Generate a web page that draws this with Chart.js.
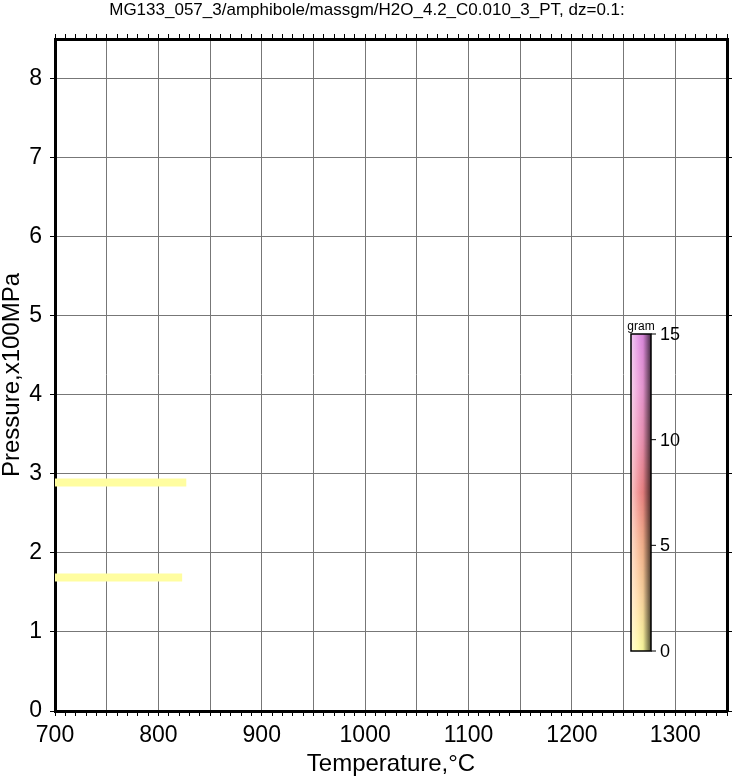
<!DOCTYPE html>
<html>
<head>
<meta charset="utf-8">
<script src="https://cdn.jsdelivr.net/npm/chart.js@4.4.0/dist/chart.umd.min.js"></script>
<style>
  html, body { margin: 0; padding: 0; background: #fff; }
</style>
</head>
<body>
<canvas id="chart" width="734" height="776"></canvas>
<script>
const titleText = 'MG133_057_3/amphibole/massgm/H2O_4.2_C0.010_3_PT, dz=0.1:';

// yellow strips: pressure level (x100MPa), temperature span (°C), mass (gram)
const stripPressure = [2.89, 1.69];
const stripTStart = [700, 700];
const stripTEnd = [827, 823];
const stripMass = [0.1, 0.1];

// axis ticks
const xTickLabels = [700, 800, 900, 1000, 1100, 1200, 1300];
const yTickLabels = [0, 1, 2, 3, 4, 5, 6, 7, 8];
const colorbarTicks = [0, 5, 10, 15];

// colour scale (gram -> colour)
const cmapValues = [0, 2.5, 5, 7.5, 10, 12.5, 15];
const cmapColors = ['#ffffa0', '#ffd8a0', '#f8b48e', '#ee8484', '#ee92b4', '#ec9ad6', '#e08ae2'];

const FONT = "'Liberation Sans', Arial, sans-serif";
const gridColor = '#777777';

function hexToRgb(h) {
  return [1, 3, 5].map(i => parseInt(h.substr(i, 2), 16));
}

function colorAt(v) {
  let i = 0;
  while (i < cmapValues.length - 2 && v > cmapValues[i + 1]) i++;
  const t = Math.max(0, Math.min(1, (v - cmapValues[i]) / (cmapValues[i + 1] - cmapValues[i])));
  const a = hexToRgb(cmapColors[i]);
  const b = hexToRgb(cmapColors[i + 1]);
  return a.map((c, k) => Math.round(c + (b[k] - c) * t));
}

function mix(rgb, target, t) {
  const c = rgb.map((v, k) => Math.round(v + (target[k] - v) * t));
  return `rgb(${c[0]},${c[1]},${c[2]})`;
}

// tick marks every 10 °C along the top and bottom edges
function tempTicks() {
  const out = [];
  for (let v = 700; v <= 1350; v += 10) out.push({ value: v });
  return out;
}

const datasets = stripPressure.map((p, i) => ({
  data: [{ x: stripTStart[i], y: p }, { x: stripTEnd[i], y: p }],
  showLine: true,
  borderColor: mix(colorAt(stripMass[i]), [255, 255, 255], 0),
  borderWidth: 8,
  borderCapStyle: 'butt',
  pointRadius: 0
}));

// shaded colour bar at the right of the plot
const colorbarPlugin = {
  id: 'colorbar',
  afterDraw(chart) {
    const ctx = chart.ctx;
    const x0 = 631, x1 = 651, yTop = 334, yBot = 651;
    const vmax = colorbarTicks[colorbarTicks.length - 1];
    ctx.save();
    for (let y = yTop; y < yBot; y++) {
      const v = vmax * (yBot - y - 0.5) / (yBot - yTop);
      const base = colorAt(v);
      const g = ctx.createLinearGradient(x0, 0, x1, 0);
      g.addColorStop(0, mix(base, [255, 255, 255], 0.55));
      g.addColorStop(0.35, mix(base, [255, 255, 255], 0.15));
      g.addColorStop(0.6, mix(base, [0, 0, 0], 0.05));
      g.addColorStop(1, mix(base, [0, 0, 0], 0.7));
      ctx.fillStyle = g;
      ctx.fillRect(x0, y, x1 - x0, 1);
    }
    ctx.strokeStyle = '#000';
    ctx.lineWidth = 1.5;
    ctx.strokeRect(x0, yTop, x1 - x0, yBot - yTop);

    ctx.fillStyle = '#000';
    ctx.font = `18px ${FONT}`;
    ctx.textAlign = 'left';
    ctx.textBaseline = 'middle';
    ctx.lineWidth = 1;
    colorbarTicks.forEach(t => {
      const y = yBot - (yBot - yTop) * t / vmax;
      ctx.beginPath();
      ctx.moveTo(x1, y);
      ctx.lineTo(x1 + 5, y);
      ctx.stroke();
      ctx.fillText(String(t), x1 + 9, y + 1);
    });
    ctx.font = `12px ${FONT}`;
    ctx.textAlign = 'center';
    ctx.textBaseline = 'bottom';
    ctx.fillText('gram', (x0 + x1) / 2, yTop - 1);
    ctx.restore();
  }
};

const tickFont = { family: FONT, size: 23 };

new Chart(document.getElementById('chart'), {
  type: 'scatter',
  data: { datasets },
  options: {
    responsive: false,
    animation: false,
    devicePixelRatio: 1,
    layout: { padding: 0 },
    plugins: {
      legend: { display: false },
      tooltip: { enabled: false },
      title: {
        display: true,
        text: titleText,
        color: '#000',
        font: { family: FONT, size: 17, weight: 'normal', lineHeight: 1.2 },
        padding: { top: 0, bottom: 0 }
      }
    },
    scales: {
      x: {
        type: 'linear',
        position: 'bottom',
        min: 700,
        max: 1350,
        z: 1,
        afterBuildTicks: s => { s.ticks = tempTicks(); },
        afterFit: s => { s.height = 65; },
        grid: {
          color: c => (c.tick && c.tick.value % 50 === 0) ? gridColor : 'rgba(0,0,0,0)',
          tickColor: '#000',
          tickLength: 5,
          lineWidth: 1
        },
        border: { color: '#000', width: 3 },
        ticks: {
          autoSkip: false,
          maxRotation: 0,
          padding: 6,
          color: '#000',
          font: tickFont,
          callback: v => xTickLabels.includes(v) ? String(v) : ''
        },
        title: {
          display: true,
          text: 'Temperature,°C',
          color: '#000',
          font: { family: FONT, size: 24, lineHeight: 1 },
          padding: { top: 0, bottom: 0 }
        }
      },
      x2: {
        type: 'linear',
        position: 'top',
        min: 700,
        max: 1350,
        z: 1,
        afterBuildTicks: s => { s.ticks = tempTicks(); },
        afterFit: s => { s.height = 18.6; },
        grid: { drawOnChartArea: false, tickColor: '#000', tickLength: 5 },
        border: { color: '#000', width: 3 },
        ticks: { display: false }
      },
      y: {
        type: 'linear',
        position: 'left',
        min: 0,
        max: 8.5,
        z: 1,
        afterBuildTicks: s => { s.ticks = yTickLabels.map(v => ({ value: v })); },
        afterFit: s => { s.width = 55; },
        grid: { color: gridColor, tickColor: '#000', tickLength: 5, lineWidth: 1 },
        border: { color: '#000', width: 3 },
        ticks: { padding: 8, color: '#000', font: tickFont },
        title: {
          display: true,
          text: 'Pressure,x100MPa',
          color: '#000',
          font: { family: FONT, size: 24, lineHeight: 1 },
          padding: { top: 0, bottom: 0 }
        }
      },
      y2: {
        type: 'linear',
        position: 'right',
        min: 0,
        max: 8.5,
        z: 1,
        afterBuildTicks: s => { s.ticks = yTickLabels.map(v => ({ value: v })); },
        afterFit: s => { s.width = 7; },
        grid: { drawOnChartArea: false, tickColor: '#000', tickLength: 5 },
        border: { color: '#000', width: 3 },
        ticks: { display: false }
      }
    }
  },
  plugins: [colorbarPlugin]
});
</script>
</body>
</html>
